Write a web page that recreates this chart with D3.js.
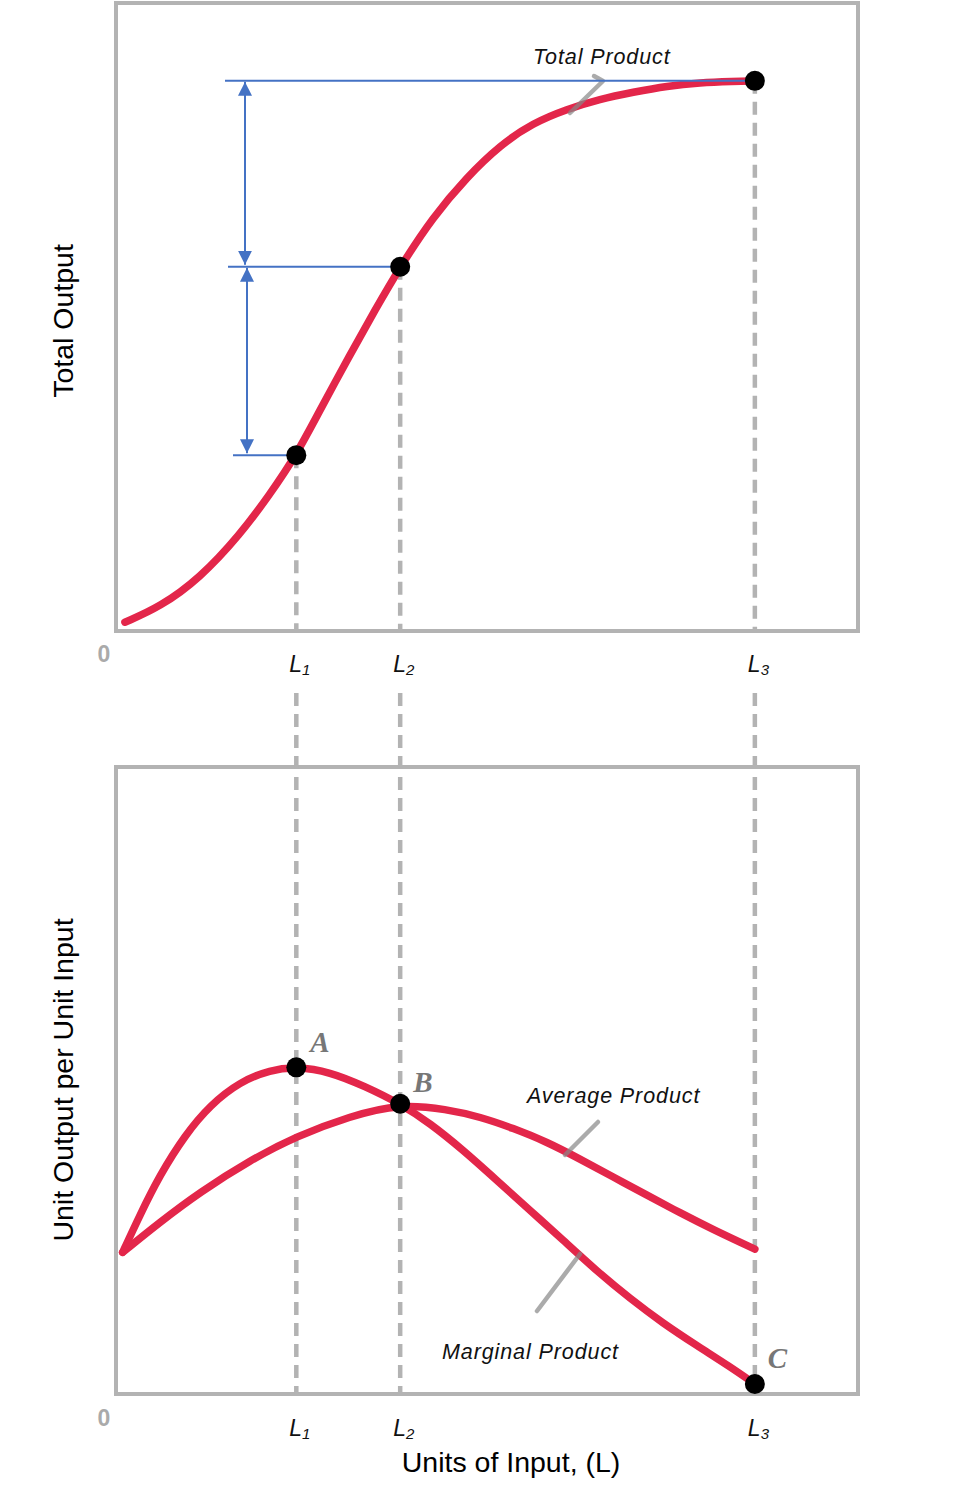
<!DOCTYPE html>
<html>
<head>
<meta charset="utf-8">
<script src="https://cdn.jsdelivr.net/npm/d3@7"></script>
<style>
  body { margin: 0; background: #fff; }
  text { font-family: 'Liberation Sans', Arial, sans-serif; }
</style>
</head>
<body>
<script>
// input levels L1, L2, L3
var lNames = ['1', '2', '3'],
    lValues = [2.43, 3.83, 8.61];

// total product curve
var tpX = [0.12, 0.59, 1.13, 1.67, 2.07, 2.43, 2.75, 3.15, 3.49, 3.83, 4.27, 4.73, 5.18, 5.62, 6.08, 6.52, 6.97, 7.43, 7.87, 8.32, 8.61],
    tpY = [1.4, 3.8, 8.4, 15.3, 21.7, 28.0, 35.2, 43.9, 51.1, 58.0, 65.9, 72.3, 77.4, 80.9, 83.1, 84.7, 85.8, 86.8, 87.3, 87.5, 87.6];

// marginal product curve
var mpX = [0.09, 0.32, 0.59, 0.93, 1.27, 1.67, 2.08, 2.43, 2.88, 3.35, 3.83, 4.23, 4.68, 5.13, 5.58, 6.02, 6.48, 6.93, 7.37, 7.83, 8.27, 8.61],
    mpY = [22.6, 28.5, 34.9, 41.3, 46.1, 49.8, 51.7, 52.2, 51.4, 49.1, 46.3, 43.2, 38.9, 34.1, 29.3, 24.6, 19.6, 15.2, 11.3, 7.7, 4.4, 1.6];

// average product curve
var apX = [0.09, 0.59, 1.13, 1.81, 2.43, 3.15, 3.83, 4.46, 4.91, 5.35, 5.81, 6.25, 6.70, 7.16, 7.60, 8.05, 8.61],
    apY = [22.6, 27.4, 32.2, 37.3, 41.1, 44.3, 46.3, 45.4, 44.2, 42.4, 40.2, 37.5, 34.6, 31.7, 28.9, 26.2, 23.1];

var tpAt = [28.0, 58.0, 87.6];          // TP at L1, L2, L3
var bottomDots = [[2.43, 52.1, 'A'], [3.83, 46.3, 'B'], [8.61, 1.6, 'C']];

var red = '#e3264a', gray = '#b3b3b3', blue = '#4472c4';

var svg = d3.select('body').append('svg')
    .attr('width', 960)
    .attr('height', 1494);

var x = d3.scaleLinear().domain([0, 10]).range([116, 858]),
    yTop = d3.scaleLinear().domain([0, 100]).range([631, 3]),
    yBot = d3.scaleLinear().domain([0, 100]).range([1394, 767]);

var defs = svg.append('defs');
defs.append('marker')
    .attr('id', 'arrow')
    .attr('viewBox', '0 0 10 10')
    .attr('refX', 10).attr('refY', 5)
    .attr('markerUnits', 'userSpaceOnUse')
    .attr('markerWidth', 14).attr('markerHeight', 15)
    .attr('orient', 'auto-start-reverse')
  .append('path')
    .attr('d', 'M0,0L10,5L0,10Z')
    .attr('fill', blue);

// frames
[yTop, yBot].forEach(function(y) {
    svg.append('rect')
        .attr('x', x(0)).attr('y', y(100))
        .attr('width', x(10) - x(0)).attr('height', y(0) - y(100))
        .attr('fill', 'none')
        .attr('stroke', gray)
        .attr('stroke-width', 4);
});

// dashed guides
lValues.forEach(function(v, i) {
    svg.append('line')
        .attr('x1', x(v)).attr('x2', x(v))
        .attr('y1', yTop(tpAt[i])).attr('y2', yTop(0) - 2)
        .attr('stroke', gray).attr('stroke-width', 4.5)
        .attr('stroke-dasharray', '13,8');
    svg.append('line')
        .attr('x1', x(v)).attr('x2', x(v))
        .attr('y1', 693).attr('y2', yBot(0))
        .attr('stroke', gray).attr('stroke-width', 4.5)
        .attr('stroke-dasharray', '13,8');
});

var lineTop = d3.line()
    .x(function(d) { return x(d[0]); })
    .y(function(d) { return yTop(d[1]); })
    .curve(d3.curveBasis);
var lineBot = d3.line()
    .x(function(d) { return x(d[0]); })
    .y(function(d) { return yBot(d[1]); })
    .curve(d3.curveBasis);

svg.append('path')
    .attr('d', lineTop(d3.zip(tpX, tpY)))
    .attr('fill', 'none').attr('stroke', red)
    .attr('stroke-width', 7.5).attr('stroke-linecap', 'round');
svg.append('path')
    .attr('d', lineBot(d3.zip(apX, apY)))
    .attr('fill', 'none').attr('stroke', red)
    .attr('stroke-width', 7.5).attr('stroke-linecap', 'round');
svg.append('path')
    .attr('d', lineBot(d3.zip(mpX, mpY)))
    .attr('fill', 'none').attr('stroke', red)
    .attr('stroke-width', 7.5).attr('stroke-linecap', 'round');

// leader lines
var leaders = [
    [[570, 113], [603, 81], [594, 76]],
    [[598, 1122], [565, 1155]],
    [[580, 1254], [537, 1311]]
];
leaders.forEach(function(pts) {
    svg.append('path')
        .attr('d', d3.line()(pts))
        .attr('fill', 'none')
        .attr('stroke', '#888').attr('stroke-opacity', 0.7)
        .attr('stroke-width', 4.5)
        .attr('stroke-linecap', 'round').attr('stroke-linejoin', 'round');
});

// blue level lines and arrows
var startX = [233, 228, 225];
tpAt.forEach(function(v, i) {
    svg.append('line')
        .attr('x1', startX[i]).attr('x2', x(lValues[i]))
        .attr('y1', yTop(v)).attr('y2', yTop(v))
        .attr('stroke', blue).attr('stroke-width', 2);
});
[[245, 2, 1], [247, 1, 0]].forEach(function(a) {
    svg.append('line')
        .attr('x1', a[0]).attr('x2', a[0])
        .attr('y1', yTop(tpAt[a[1]]) + 1).attr('y2', yTop(tpAt[a[2]]) - 2)
        .attr('stroke', blue).attr('stroke-width', 2)
        .attr('marker-start', 'url(#arrow)')
        .attr('marker-end', 'url(#arrow)');
});

// dots
lValues.forEach(function(v, i) {
    svg.append('circle')
        .attr('cx', x(v)).attr('cy', yTop(tpAt[i]))
        .attr('r', 10).attr('fill', '#000');
});
bottomDots.forEach(function(d) {
    svg.append('circle')
        .attr('cx', x(d[0])).attr('cy', yBot(d[1]))
        .attr('r', 10).attr('fill', '#000');
});

// point letters
var letterOff = [[14, -15], [13, -12], [13, -16]];
bottomDots.forEach(function(d, i) {
    svg.append('text')
        .attr('x', x(d[0]) + letterOff[i][0])
        .attr('y', yBot(d[1]) + letterOff[i][1])
        .style('font-family', "'Liberation Serif', 'Times New Roman', serif")
        .style('font-style', 'italic').style('font-weight', 'bold')
        .style('font-size', '29px')
        .attr('fill', '#777')
        .text(d[2]);
});

// L tick labels
[672, 1436].forEach(function(yy) {
    lValues.forEach(function(v, i) {
        var t = svg.append('text')
            .attr('x', x(v) - 7).attr('y', yy)
            .style('font-style', 'italic').style('font-size', '23px')
            .attr('fill', '#111');
        t.append('tspan').text('L');
        t.append('tspan').attr('dy', 3).style('font-size', '15px').text(lNames[i]);
    });
    svg.append('text')
        .attr('x', 104).attr('y', yy - 10)
        .attr('text-anchor', 'middle')
        .style('font-size', '23px').style('font-weight', 'bold')
        .attr('fill', '#aaa')
        .text('0');
});

// curve labels
var curveLabels = [[533, 64, 'Total Product'], [527, 1103, 'Average Product'], [442, 1359, 'Marginal Product']];
curveLabels.forEach(function(c) {
    svg.append('text')
        .attr('x', c[0]).attr('y', c[1])
        .style('font-style', 'italic').style('font-size', '21.5px')
        .style('letter-spacing', '0.9px')
        .attr('fill', '#111')
        .text(c[2]);
});

// axis titles
svg.append('text')
    .attr('transform', 'translate(73,321) rotate(-90)')
    .attr('text-anchor', 'middle')
    .style('font-size', '28.5px')
    .text('Total Output');
svg.append('text')
    .attr('transform', 'translate(73,1080) rotate(-90)')
    .attr('text-anchor', 'middle')
    .style('font-size', '28.5px')
    .text('Unit Output per Unit Input');
svg.append('text')
    .attr('x', 511).attr('y', 1472)
    .attr('text-anchor', 'middle')
    .style('font-size', '28.5px')
    .text('Units of Input, (L)');
</script>
</body>
</html>
